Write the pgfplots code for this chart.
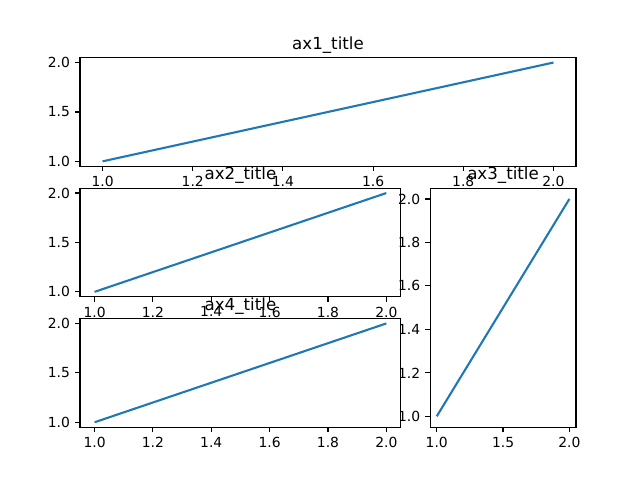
\documentclass[border=0pt]{standalone}
\usepackage{pgfplots}
\pgfplotsset{compat=1.18}
\usepackage{fontspec}
\setmainfont{DejaVu Sans}
\definecolor{mplblue}{HTML}{1F77B4}
\pgfplotsset{
  mpl/.style={
    scale only axis,
    anchor=south west,
    xmin=0.95, xmax=2.05, ymin=0.95, ymax=2.05,
    axis line style={line width=0.8bp},
    every tick/.style={line width=0.8bp, black},
    tick align=outside,
    major tick length=3.5bp,
    xtick pos=bottom, ytick pos=left,
    /pgf/number format/assume math mode=true,
    /pgf/number format/.cd, fixed, fixed zerofill, precision=1, /pgfplots/.cd,
    tick label style={font=\fontsize{10bp}{12bp}\selectfont, inner sep=0pt},
    xticklabel style={yshift=-3.5bp},
    yticklabel style={xshift=-3.5bp},
    every axis title/.style={at={(0.5,1)}, anchor=south, yshift=3bp, inner sep=0pt, font=\fontsize{12bp}{14bp}\selectfont},
    axis background/.style={fill=white},
    clip=false,
  },
  line/.style={color=mplblue, line width=1.5bp, mark=none},
}
\begin{document}
\begin{tikzpicture}
\path[use as bounding box] (0,0) rectangle (6.4in,4.8in);
% ax1
\begin{axis}[mpl, at={(0.80in,3.137in)}, width=4.96in, height=1.087in,
  title={ax1\_title},
  xtick={1.0,1.2,1.4,1.6,1.8,2.0}, ytick={1.0,1.5,2.0}]
\addplot[line] coordinates {(1,1) (2,2)};
\end{axis}
% ax2
\begin{axis}[mpl, at={(0.80in,1.832in)}, width=3.209in, height=1.087in,
  title={ax2\_title},
  xtick={1.0,1.2,1.4,1.6,1.8,2.0}, ytick={1.0,1.5,2.0}]
\addplot[line] coordinates {(1,1) (2,2)};
\end{axis}
% ax3
\begin{axis}[mpl, at={(4.301in,0.528in)}, width=1.459in, height=2.391in,
  title={ax3\_title},
  xtick={1.0,1.5,2.0}, ytick={1.0,1.2,1.4,1.6,1.8,2.0}]
\addplot[line] coordinates {(1,1) (2,2)};
\end{axis}
% ax4
\begin{axis}[mpl, at={(0.80in,0.528in)}, width=3.209in, height=1.087in,
  title={ax4\_title},
  xtick={1.0,1.2,1.4,1.6,1.8,2.0}, ytick={1.0,1.5,2.0}]
\addplot[line] coordinates {(1,1) (2,2)};
\end{axis}
\end{tikzpicture}
\end{document}
